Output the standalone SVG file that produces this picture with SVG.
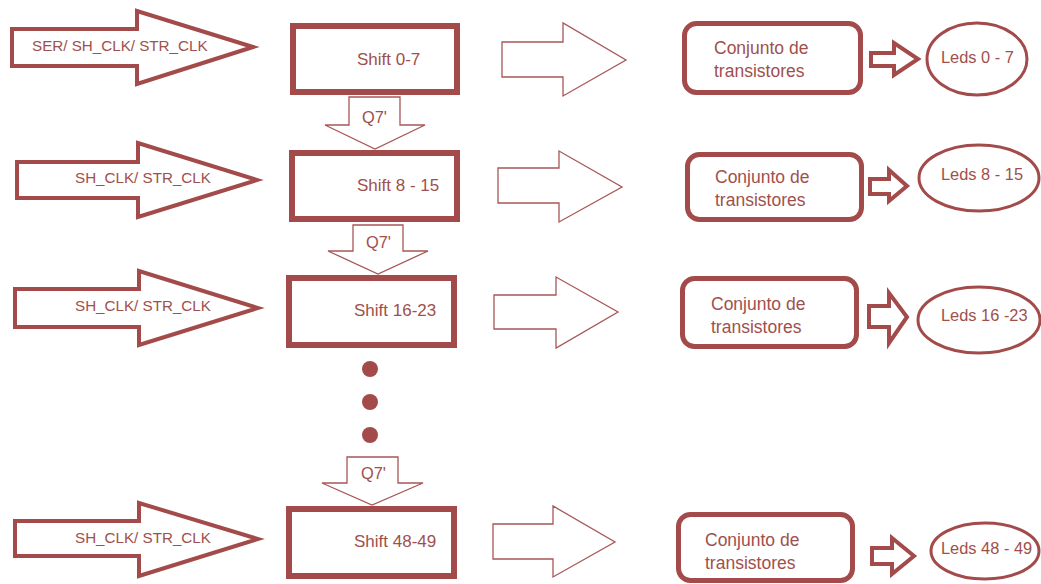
<svg xmlns="http://www.w3.org/2000/svg" width="1041" height="584" viewBox="0 0 1041 584">
<style>
text{font-family:"Liberation Sans",Arial,sans-serif;fill:#A0504C;}
.lbl{font-size:15.2px;}
.sh{font-size:17px;}
.cj{font-size:17.5px;}
.ld{font-size:16.4px;}
.q{font-size:16.4px;}
.shift{fill:#fff;stroke:#A34B4B;stroke-width:6;}
.conj{fill:#fff;stroke:#A34B4B;stroke-width:5;}
.led{fill:#fff;stroke:#A34B4B;stroke-width:3;}
.inarrow{fill:#fff;stroke:#A34B4B;stroke-width:4;stroke-linejoin:miter;}
.thin{fill:#fff;stroke:#A85656;stroke-width:1.3;}
.small{fill:#fff;stroke:#A34B4B;stroke-width:4;}
.dot{fill:#A34B4B;}
</style>
<rect width="1041" height="584" fill="#fff"/>
<g id="connectors">
  <g id="in1"><polygon class="inarrow" points="12,29 137,29 137,11 253,47 137,84 137,66 12,66"/><text class="lbl" x="32" y="51">SER/ SH_CLK/ STR_CLK</text></g>
  <g id="in2"><polygon class="inarrow" points="17,162 138,162 138,143 257,180 138,217 138,198 17,198"/><text class="lbl" x="75" y="183">SH_CLK/ STR_CLK</text></g>
  <g id="in3"><polygon class="inarrow" points="15,289 139,289 139,271 258,308 139,345 139,327 15,327"/><text class="lbl" x="75" y="311">SH_CLK/ STR_CLK</text></g>
  <g id="in4"><polygon class="inarrow" points="15,521 139,521 139,503 258,539 139,576 139,556 15,556"/><text class="lbl" x="75" y="543">SH_CLK/ STR_CLK</text></g>
  <g id="q1"><polygon class="thin" points="349,97 400,97 400,125 425,125 375,149 325,125 349,125"/><text class="q" x="362" y="123">Q7'</text></g>
  <g id="q2"><polygon class="thin" points="353,225 403,225 403,251 428,251 378,274 328,251 353,251"/><text class="q" x="366" y="248">Q7'</text></g>
  <g id="q3"><polygon class="thin" points="347,457 398,457 398,483 423,483 372,505 322,483 347,483"/><text class="q" x="361" y="479">Q7'</text></g>
  <polygon class="thin" points="502,42 563,42 563,23 626,60 563,96 563,77 502,77"/>
  <polygon class="thin" points="498,168 559,168 559,151 622,187 559,222 559,203 498,203"/>
  <polygon class="thin" points="494,295 556,295 556,277 618,312 556,348 556,329 494,329"/>
  <polygon class="thin" points="493,524 553,524 553,506 615,542 553,577 553,559 493,559"/>
  <polygon class="small" points="871,53 894,53 894,43 918,59 894,75 894,66 871,66"/>
  <polygon class="small" points="870,179 889,179 889,170 907,186 889,201 889,194 870,194"/>
  <polygon class="small" points="869,306 889,306 889,293 907,317 889,343 889,327 869,327"/>
  <polygon class="small" points="872,548 892,548 892,538 914,556 892,574 892,564 872,564"/>
  <g id="ellipsis">
    <circle class="dot" cx="370" cy="369" r="8"/>
    <circle class="dot" cx="370" cy="402" r="8"/>
    <circle class="dot" cx="370" cy="435" r="8"/>
  </g>
</g>
<g id="shift1"><rect class="shift" x="293" y="26" width="164" height="66"/><text class="sh" x="357" y="65">Shift 0-7</text></g>
<g id="shift2"><rect class="shift" x="292" y="153" width="165" height="66"/><text class="sh" x="357" y="191">Shift 8 - 15</text></g>
<g id="shift3"><rect class="shift" x="289" y="278" width="165" height="67"/><text class="sh" x="354" y="316">Shift 16-23</text></g>
<g id="shift4"><rect class="shift" x="289" y="509" width="165" height="67"/><text class="sh" x="354" y="547">Shift 48-49</text></g>
<g id="conj1"><rect class="conj" x="684.5" y="23.5" width="176" height="69" rx="12"/><text class="cj" x="714" y="54">Conjunto de</text><text class="cj" x="714" y="77">transistores</text></g>
<g id="conj2"><rect class="conj" x="687.5" y="154.5" width="174" height="65" rx="12"/><text class="cj" x="715" y="183">Conjunto de</text><text class="cj" x="715" y="206">transistores</text></g>
<g id="conj3"><rect class="conj" x="682.5" y="278.5" width="174" height="68" rx="12"/><text class="cj" x="711" y="310">Conjunto de</text><text class="cj" x="711" y="333">transistores</text></g>
<g id="conj4"><rect class="conj" x="678.5" y="514.5" width="174" height="66" rx="12"/><text class="cj" x="705" y="546">Conjunto de</text><text class="cj" x="705" y="569">transistores</text></g>
<g id="leds1"><ellipse class="led" cx="977" cy="59" rx="50" ry="36"/><text class="ld" x="941" y="63">Leds 0 - 7</text></g>
<g id="leds2"><ellipse class="led" cx="979" cy="178" rx="60" ry="33"/><text class="ld" x="941" y="180">Leds 8 - 15</text></g>
<g id="leds3"><ellipse class="led" cx="979" cy="320" rx="61" ry="33"/><text class="ld" x="941" y="321">Leds 16 -23</text></g>
<g id="leds4"><ellipse class="led" cx="985" cy="551" rx="54" ry="28"/><text class="ld" x="941" y="554">Leds 48 - 49</text></g>
</svg>
